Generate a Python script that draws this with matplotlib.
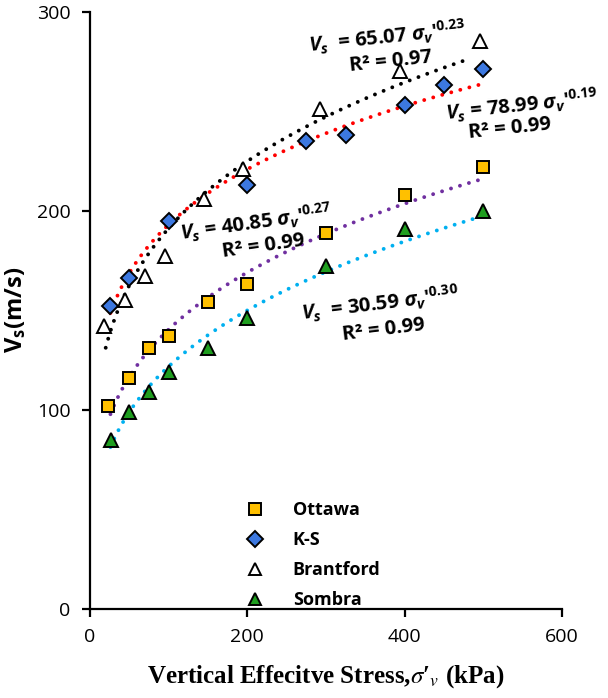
import matplotlib
matplotlib.use('Agg')
import matplotlib.pyplot as plt
import numpy as np

plt.rcParams['mathtext.fontset'] = 'custom'
plt.rcParams['mathtext.it'] = 'Open Sans:italic:bold'
plt.rcParams['mathtext.rm'] = 'Open Sans:bold'
plt.rcParams['mathtext.bf'] = 'Open Sans:bold'

# data (kPa, m/s)
ottawa_x = [23, 50, 75, 100, 150, 200, 300, 400, 500]
ottawa_y = [102, 116, 131, 137, 154, 163, 189, 208, 222]
ks_x = [25, 50, 100, 200, 275, 325, 400, 450, 500]
ks_y = [152, 166, 195, 213, 235, 238, 253, 263, 271]
brant_x = [18, 45, 70, 95, 145, 195, 293, 394, 496]
brant_y = [142, 155, 167, 177, 206, 221, 251, 270, 285]
sombra_x = [27, 50, 75, 100, 150, 200, 300, 400, 500]
sombra_y = [85, 99, 109, 119, 131, 146, 172, 191, 200]

# power-law trendlines  Vs = a * sigma^b  (exponents a bit more precise than the rounded labels)
fit_a = {'ottawa': 40.85, 'ks': 78.99, 'brant': 65.07, 'sombra': 30.59}
fit_b = {'ottawa': 0.268, 'ks': 0.194, 'brant': 0.234, 'sombra': 0.30}
fit_r2 = {'ottawa': 0.99, 'ks': 0.99, 'brant': 0.97, 'sombra': 0.99}

fig = plt.figure(figsize=(6.08, 6.98), dpi=100)
ax = fig.add_axes([0.148, 0.1275, 0.776, 0.856])

dot = (0, (0.01, 2.4))
def trend(key, x0, x1, color):
    x = np.linspace(x0, x1, 200)
    ax.plot(x, fit_a[key] * x ** fit_b[key], color=color, lw=2.8,
            linestyle=dot, dash_capstyle='round', zorder=2)

trend('brant', 20, 484, 'black')
trend('ks', 26, 500, '#ff0000')
trend('ottawa', 26, 500, '#7030a0')
trend('sombra', 26, 500, '#00b0f0')

mk = dict(linestyle='none', markeredgecolor='black', markeredgewidth=1.4, zorder=3)
ax.plot(ottawa_x, ottawa_y, 's', color='#ffc000', markersize=8.5, label='Ottawa', **mk)
ax.plot(ks_x, ks_y, 'D', color='#3c78e0', markersize=8, label='K-S', **mk)
ax.plot(brant_x, brant_y, '^', color='white', markersize=10, label='Brantford', **mk)
ax.plot(sombra_x, sombra_y, '^', color='#1f9e1f', markersize=10, label='Sombra', **mk)

ax.set_xlim(0, 600)
ax.set_ylim(0, 300)
ax.set_xticks([0, 200, 400, 600])
ax.set_yticks([0, 100, 200, 300])
for s in ['top', 'right']:
    ax.spines[s].set_visible(False)
for s in ['left', 'bottom']:
    ax.spines[s].set_linewidth(1.6)
ax.tick_params(direction='out', length=6, width=1.6, labelsize=14, pad=8)
for lab in ax.get_xticklabels() + ax.get_yticklabels():
    lab.set_family('Open Sans')

ax.set_ylabel(r'V$_{\mathrm{s}}$(m/s)', fontsize=17, fontweight='bold', family='Open Sans', labelpad=6)
ax.set_xlabel(r"Vertical Effecitve Stress,$\sigma$′$_{v}$ (kPa)", fontsize=18, fontweight='bold',
              family='Liberation Serif', math_fontfamily='stix', labelpad=12)

eq_kw = dict(fontsize=14.5, fontweight='bold', family='Open Sans', ha='center', va='center', zorder=4)
ax.text(378, 287, r"$V_s$  = 65.07 $\sigma_v$$'^{0.23}$", rotation=6, **eq_kw)
ax.text(383, 275, 'R² = %.2f' % fit_r2['brant'], rotation=6, **eq_kw)
ax.text(549, 253, r"$V_s$ = 78.99 $\sigma_v$$'^{0.19}$", rotation=6, **eq_kw)
ax.text(534, 241, 'R² = %.2f' % fit_r2['ks'], rotation=6, **eq_kw)
ax.text(211, 194, r"$V_s$ = 40.85 $\sigma_v$$'^{0.27}$", rotation=8, **eq_kw)
ax.text(220, 182, 'R² = %.2f' % fit_r2['ottawa'], rotation=8, **eq_kw)
ax.text(369, 153, r"$V_s$  = 30.59 $\sigma_v$$'^{0.30}$", rotation=7, **eq_kw)
ax.text(374, 140, 'R² = %.2f' % fit_r2['sombra'], rotation=7, **eq_kw)

leg = ax.legend(loc='upper left', bbox_to_anchor=(0.33, 0.18), frameon=False,
                handlelength=1.0, handletextpad=1.6, labelspacing=0.66, borderaxespad=0,
                borderpad=0, prop={'family': 'Open Sans', 'weight': 'bold', 'size': 13})
for h in leg.legend_handles:
    h.set_markersize(8)

fig.savefig('out.png', dpi=100)
